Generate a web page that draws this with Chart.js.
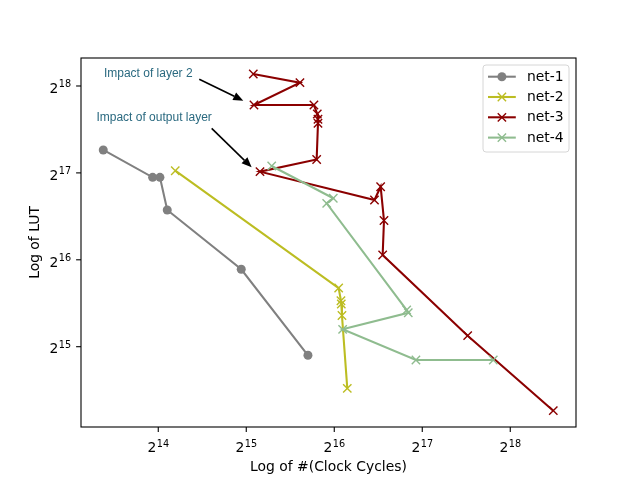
<!DOCTYPE html>
<html><head><meta charset="utf-8">
<script src="https://cdn.jsdelivr.net/npm/chart.js@4.4.0/dist/chart.umd.min.js"></script>
<style>html,body{margin:0;padding:0;background:#fff}#wrap{width:640px;height:480px}</style>
</head><body><div id="wrap"><canvas id="c" width="640" height="480"></canvas></div>
<script>
const seriesNames = ['net-1', 'net-2', 'net-3', 'net-4'];
const seriesColors = ['#808080', '#bcbd22', '#8b0000', '#8fbc8f'];
const seriesMarkers = ['circle', 'crossRot', 'crossRot', 'crossRot'];

const net1Cycles = [10623, 15674, 16601, 17584, 31498, 53271];
const net1LUT    = [157391, 126517, 126517, 97498, 60765, 30594];

const net2Cycles = [18729, 67849, 69082, 69273, 69632, 72614];
const net2LUT    = [133363, 52317, 47285, 46053, 42025, 23510];

const net3Cycles = [34636, 50011, 34816, 55837, 57331, 57648, 57648, 57052, 36510, 89961, 94437, 96954, 95951, 187433, 367897];
const net3LUT    = [288465, 269140, 225221, 225221, 209702, 201025, 194720, 145833, 132350, 105585, 117388, 89653, 68080, 35783, 19674];

const net4Cycles = [40036, 65038, 61738, 115940, 117388, 69999, 124682, 229324];
const net4LUT    = [138451, 107053, 102833, 43903, 42970, 37641, 29472, 29472];

const tickBase = 2;
const xTickExps = [14, 15, 16, 17, 18];
const yTickExps = [15, 16, 17, 18];
const xTitle = 'Log of #(Clock Cycles)';
const yTitle = 'Log of LUT';

const annotTexts = ['Impact of layer 2', 'Impact of output layer'];
const annotTextAt = [[15139, 288465], [15859, 203540]];
const annotArrowFrom = [[22631, 276510], [24955, 187040]];
const annotArrowTo = [[32003, 233178], [34184, 137021]];

const allCycles = [net1Cycles, net2Cycles, net3Cycles, net4Cycles];
const allLUT = [net1LUT, net2LUT, net3LUT, net4LUT];

const datasets = seriesNames.map((name, i) => ({
  label: name,
  data: allCycles[i].map((x, k) => ({ x: x, y: allLUT[i][k] })),
  borderColor: seriesColors[i],
  backgroundColor: seriesColors[i],
  pointBackgroundColor: seriesColors[i],
  pointBorderColor: seriesColors[i],
  pointStyle: seriesMarkers[i],
  pointRadius: seriesMarkers[i] === 'circle' ? 4.5 : 5.9,
  pointBorderWidth: seriesMarkers[i] === 'circle' ? 0 : 1.4,
  pointHoverRadius: seriesMarkers[i] === 'circle' ? 4.5 : 5.9,
  borderWidth: 2.08,
  tension: 0,
  fill: false,
  showLine: true,
  order: seriesNames.length - i
}));

const FONT = '"DejaVu Sans", sans-serif';

function drawPow(ctx, exp, x, y, align, vmode) {
  const bs = String(tickBase), es = String(exp);
  ctx.font = '13.9px ' + FONT;
  const bw = ctx.measureText(bs).width;
  ctx.font = '9.7px ' + FONT;
  const ew = ctx.measureText(es).width;
  const tw = bw + ew + 0.5;
  let left = align === 'center' ? x - tw / 2 : x - tw;
  let baseY, expY;
  if (vmode === 'x') { baseY = y + 15.5; expY = y + 10; }
  else { baseY = y + 6.8; expY = y + 1.0; }
  ctx.fillStyle = '#000';
  ctx.textAlign = 'left';
  ctx.textBaseline = 'alphabetic';
  ctx.font = '13.9px ' + FONT;
  ctx.fillText(bs, left, baseY);
  ctx.font = '9.7px ' + FONT;
  ctx.fillText(es, left + bw + 0.5, expY);
}

function arrow(ctx, x1, y1, x2, y2) {
  const ang = Math.atan2(y2 - y1, x2 - x1);
  const hl = 10, hw = 4.2;
  const bx = x2 - hl * Math.cos(ang), by = y2 - hl * Math.sin(ang);
  ctx.strokeStyle = '#000';
  ctx.fillStyle = '#000';
  ctx.lineWidth = 1.6;
  ctx.beginPath();
  ctx.moveTo(x1, y1);
  ctx.lineTo(bx, by);
  ctx.stroke();
  ctx.beginPath();
  ctx.moveTo(x2, y2);
  ctx.lineTo(bx + hw * Math.sin(ang), by - hw * Math.cos(ang));
  ctx.lineTo(bx - hw * Math.sin(ang), by + hw * Math.cos(ang));
  ctx.closePath();
  ctx.fill();
}

const decor = {
  id: 'decor',
  afterDraw(chart) {
    const ctx = chart.ctx;
    const a = chart.chartArea;
    const xs = chart.scales.x, ys = chart.scales.y;
    ctx.save();
    ctx.strokeStyle = '#000';
    ctx.lineWidth = 1.1;
    ctx.strokeRect(a.left, a.top, a.right - a.left, a.bottom - a.top);
    xTickExps.forEach(e => {
      const px = xs.getPixelForValue(Math.pow(tickBase, e));
      ctx.beginPath();
      ctx.moveTo(px, a.bottom);
      ctx.lineTo(px, a.bottom + 4.9);
      ctx.stroke();
      drawPow(ctx, e, px, a.bottom + 4.9 + 4.9, 'center', 'x');
    });
    yTickExps.forEach(e => {
      const py = ys.getPixelForValue(Math.pow(tickBase, e));
      ctx.beginPath();
      ctx.moveTo(a.left, py);
      ctx.lineTo(a.left - 4.9, py);
      ctx.stroke();
      drawPow(ctx, e, a.left - 4.9 - 4.9, py, 'right', 'y');
    });
    ctx.fillStyle = '#000';
    ctx.font = '13.9px ' + FONT;
    ctx.textAlign = 'center';
    ctx.textBaseline = 'middle';
    ctx.fillText(xTitle, (a.left + a.right) / 2, 467);
    ctx.save();
    ctx.translate(35, (a.top + a.bottom) / 2);
    ctx.rotate(-Math.PI / 2);
    ctx.fillText(yTitle, 0, 0);
    ctx.restore();
    annotTexts.forEach((t, i) => {
      const tx = xs.getPixelForValue(annotTextAt[i][0]);
      const ty = ys.getPixelForValue(annotTextAt[i][1]);
      ctx.fillStyle = '#2b6a80';
      ctx.font = '12px "Liberation Sans", Arial, sans-serif';
      ctx.textAlign = 'center';
      ctx.textBaseline = 'middle';
      ctx.fillText(t, tx, ty);
      arrow(ctx,
        xs.getPixelForValue(annotArrowFrom[i][0]), ys.getPixelForValue(annotArrowFrom[i][1]),
        xs.getPixelForValue(annotArrowTo[i][0]), ys.getPixelForValue(annotArrowTo[i][1]));
    });
    const fs = 13.9;
    const bw = 86, bh = 87;
    const bx = a.right - 7 - bw, by = a.top + 7;
    ctx.fillStyle = 'rgba(255,255,255,0.8)';
    ctx.strokeStyle = '#d6d6d6';
    ctx.lineWidth = 1;
    const r = 3;
    ctx.beginPath();
    ctx.moveTo(bx + r, by);
    ctx.lineTo(bx + bw - r, by);
    ctx.arcTo(bx + bw, by, bx + bw, by + r, r);
    ctx.lineTo(bx + bw, by + bh - r);
    ctx.arcTo(bx + bw, by + bh, bx + bw - r, by + bh, r);
    ctx.lineTo(bx + r, by + bh);
    ctx.arcTo(bx, by + bh, bx, by + bh - r, r);
    ctx.lineTo(bx, by + r);
    ctx.arcTo(bx, by, bx + r, by, r);
    ctx.closePath();
    ctx.fill();
    ctx.stroke();
    seriesNames.forEach((name, i) => {
      const cy = by + 11.7 + i * 20.3;
      const lx1 = bx + 5, lx2 = bx + 5 + 27.8, lc = (lx1 + lx2) / 2;
      ctx.strokeStyle = seriesColors[i];
      ctx.lineWidth = 2.08;
      ctx.beginPath();
      ctx.moveTo(lx1, cy);
      ctx.lineTo(lx2, cy);
      ctx.stroke();
      if (seriesMarkers[i] === 'circle') {
        ctx.fillStyle = seriesColors[i];
        ctx.beginPath();
        ctx.arc(lc, cy, 4.5, 0, Math.PI * 2);
        ctx.fill();
      } else {
        ctx.lineWidth = 1.4;
        const d = 4.15;
        ctx.beginPath();
        ctx.moveTo(lc - d, cy - d); ctx.lineTo(lc + d, cy + d);
        ctx.moveTo(lc - d, cy + d); ctx.lineTo(lc + d, cy - d);
        ctx.stroke();
      }
      ctx.fillStyle = '#000';
      ctx.font = fs + 'px ' + FONT;
      ctx.textAlign = 'left';
      ctx.textBaseline = 'middle';
      ctx.fillText(name, lx2 + 11.1, cy + 0.5);
    });
    ctx.restore();
  }
};

new Chart(document.getElementById('c'), {
  type: 'line',
  data: { datasets: datasets },
  options: {
    responsive: false,
    animation: false,
    devicePixelRatio: 1,
    layout: { padding: { left: 81, right: 64, top: 58, bottom: 53 } },
    plugins: { legend: { display: false }, tooltip: { enabled: false } },
    scales: {
      x: { type: 'logarithmic', min: 8915, max: 439955, display: false },
      y: { type: 'logarithmic', min: 17270, max: 327700, display: false }
    }
  },
  plugins: [decor]
});
</script>
</body></html>
